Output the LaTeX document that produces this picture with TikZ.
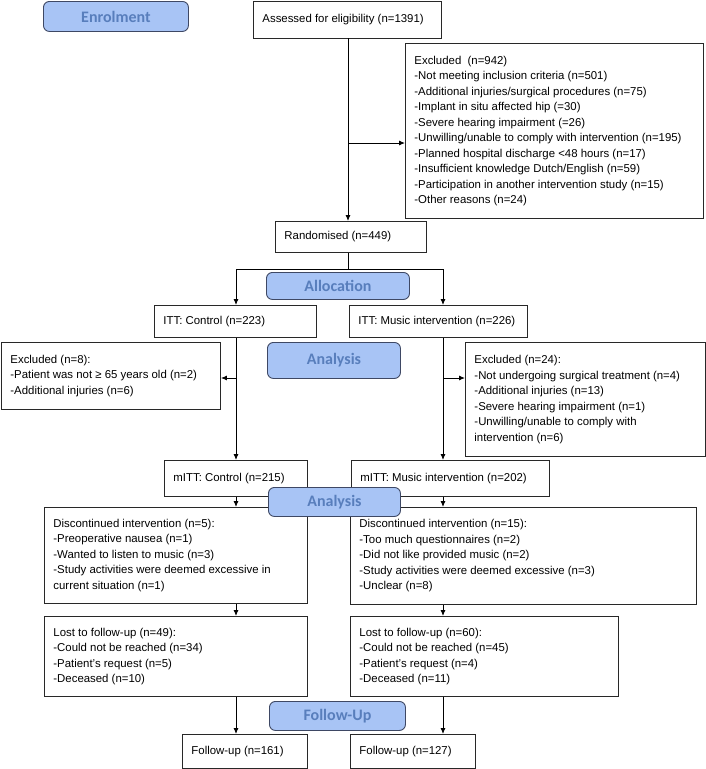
\documentclass[tikz,border=0pt]{standalone}
\usepackage{fontspec}
\setmainfont{Liberation Sans}
\newfontfamily\lblfont{Carlito}
\usetikzlibrary{arrows.meta}
\definecolor{lblfill}{RGB}{168,196,245}
\definecolor{lbltext}{RGB}{88,126,188}
\definecolor{lblline}{RGB}{62,72,100}
\definecolor{boxline}{RGB}{40,40,40}
\tikzset{
  box/.style={draw=boxline, line width=0.9pt, anchor=north west, align=flush left,
    inner xsep=9pt, inner ysep=0pt, font=\fontsize{11.4}{15.5}\selectfont},
  lbl/.style={draw=lblline, line width=0.9pt, fill=lblfill, rounded corners=6pt,
    anchor=north west, inner sep=0pt, text=lbltext,
    font=\lblfont\bfseries\fontsize{16}{18}\selectfont},
  conn/.style={line width=0.9pt, black},
  arr/.style={conn, -{Latex[length=6pt,width=5pt]}}
}
\begin{document}
\begin{tikzpicture}[x=1pt,y=-1pt]
\useasboundingbox (0,0) rectangle (706,769);
% boxes
\node[box, text width=170pt, minimum height=37pt] (assess) at (253,0.5) {Assessed for eligibility (n=1391)};
\node[box, text width=280pt, minimum height=175pt] (excl) at (405,43) {Excluded\ \ (n=942)\\
-Not meeting inclusion criteria (n=501)\\
-Additional injuries/surgical procedures (n=75)\\
-Implant in situ affected hip (=30)\\
-Severe hearing impairment (=26)\\
-Unwilling/unable to comply with intervention (n=195)\\
-Planned hospital discharge <48 hours (n=17)\\
-Insufficient knowledge Dutch/English (n=59)\\
-Participation in another intervention study (n=15)\\
-Other reasons (n=24)};
\node[box, text width=133pt, minimum height=31pt] (rand) at (275,221) {Randomised (n=449)};
\node[box, text width=144pt, minimum height=32pt] (ittc) at (154,305) {ITT: Control (n=223)};
\node[box, text width=160pt, minimum height=32pt] (ittm) at (349,305) {ITT: Music intervention (n=226)};
\node[box, text width=201pt, minimum height=67pt] (exclc) at (1,342) {Excluded (n=8):\\
-Patient was not ≥ 65 years old (n=2)\\
-Additional injuries (n=6)};
\node[box, text width=222pt, minimum height=114pt] (exclm) at (465,342) {Excluded (n=24):\\
-Not undergoing surgical treatment (n=4)\\
-Additional injuries (n=13)\\
-Severe hearing impairment (n=1)\\
-Unwilling/unable to comply with\\
intervention (n=6)};
\node[box, text width=125pt, minimum height=36pt] (mittc) at (164,460) {mITT: Control (n=215)};
\node[box, text width=180pt, minimum height=36pt] (mittm) at (351,460) {mITT: Music intervention (n=202)};
\node[box, text width=245pt, minimum height=96pt] (discc) at (44,507) {Discontinued intervention (n=5):\\
-Preoperative nausea (n=1)\\
-Wanted to listen to music (n=3)\\
-Study activities were deemed excessive in\\
current situation (n=1)};
\node[box, text width=328pt, minimum height=97pt] (discm) at (350,507) {Discontinued intervention (n=15):\\
-Too much questionnaires (n=2)\\
-Did not like provided music (n=2)\\
-Study activities were deemed excessive (n=3)\\
-Unclear (n=8)};
\node[box, text width=245pt, minimum height=80pt] (lostc) at (44,616) {Lost to follow-up (n=49):\\
-Could not be reached (n=34)\\
-Patient’s request (n=5)\\
-Deceased (n=10)};
\node[box, text width=250pt, minimum height=80pt] (lostm) at (350,616) {Lost to follow-up (n=60):\\
-Could not be reached (n=45)\\
-Patient’s request (n=4)\\
-Deceased (n=11)};
\node[box, text width=107pt, minimum height=34pt] (fuc) at (182,734) {Follow-up (n=161)};
\node[box, text width=107pt, minimum height=34pt] (fum) at (350,734) {Follow-up (n=127)};
% branch coordinates
\coordinate (sp) at (348,143);
\coordinate (split) at (348,269);
\coordinate (bc) at (236,378);
\coordinate (bm) at (443,378);
% connectors
\draw[arr] (assess.south -| sp) -- (rand.north -| sp);
\draw[arr] (sp) -- (excl.west |- sp);
\draw[conn] (rand.south -| split) -- (split);
\draw[arr] (split) -| (ittc.north -| bc);
\draw[arr] (split) -| (ittm.north -| bm);
\draw[arr] (ittc.south -| bc) -- (mittc.north -| bc);
\draw[arr] (bc) -- (exclc.east |- bc);
\draw[arr] (ittm.south -| bm) -- (mittm.north -| bm);
\draw[arr] (bm) -- (exclm.west |- bm);
\draw[arr] (mittc.south -| bc) -- (discc.north -| bc);
\draw[arr] (mittm.south -| bm) -- (discm.north -| bm);
\draw[arr] (discc.south -| bc) -- (lostc.north -| bc);
\draw[arr] (discm.south -| bm) -- (lostm.north -| bm);
\draw[arr] (lostc.south -| bc) -- (fuc.north -| bc);
\draw[arr] (lostm.south -| bm) -- (fum.north -| bm);
% stage labels
\node[lbl, minimum width=145pt, minimum height=30pt] (enrol) at (43,1) {Enrolment};
\node[lbl, minimum width=143pt, minimum height=27pt] (alloc) at (266,272) {Allocation};
\node[lbl, minimum width=133pt, minimum height=36pt] (anal1) at (267,342) {Analysis};
\node[lbl, minimum width=132pt, minimum height=29pt] (anal2) at (268,487) {Analysis};
\node[lbl, minimum width=136pt, minimum height=29pt] (fup) at (269,701) {Follow-Up};
\end{tikzpicture}
\end{document}
